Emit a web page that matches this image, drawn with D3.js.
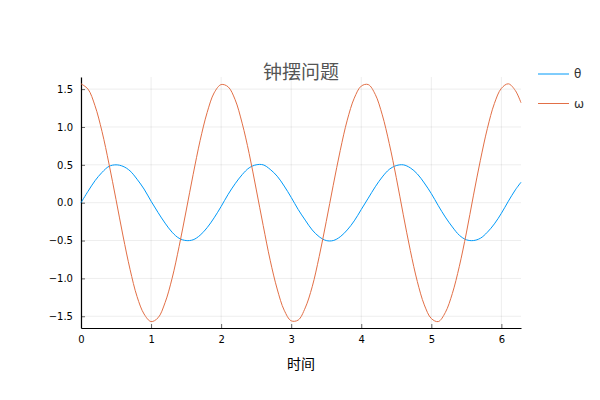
<!DOCTYPE html>
<html>
<head>
<meta charset="utf-8">
<script src="https://cdn.jsdelivr.net/npm/d3@7.9.0/dist/d3.min.js"></script>
<style>
  body { margin: 0; background: #fff; }
  svg { display: block; }
  .tick text { font-family: "DejaVu Sans", sans-serif; font-size: 10px; fill: #000; }
</style>
</head>
<body>
<svg width="600" height="400"></svg>
<script>
// 时间 (0.1 步长, 末点 2π)
const time = [0.0, 0.1, 0.2, 0.3, 0.4, 0.5, 0.6, 0.7, 0.8, 0.9,
  1.0, 1.1, 1.2, 1.3, 1.4, 1.5, 1.6, 1.7, 1.8, 1.9,
  2.0, 2.1, 2.2, 2.3, 2.4, 2.5, 2.6, 2.7, 2.8, 2.9,
  3.0, 3.1, 3.2, 3.3, 3.4, 3.5, 3.6, 3.7, 3.8, 3.9,
  4.0, 4.1, 4.2, 4.3, 4.4, 4.5, 4.6, 4.7, 4.8, 4.9,
  5.0, 5.1, 5.2, 5.3, 5.4, 5.5, 5.6, 5.7, 5.8, 5.9,
  6.0, 6.1, 6.2, 6.28];

const theta = [0.00, 0.15, 0.29, 0.40, 0.48, 0.50, 0.48, 0.42, 0.31, 0.18,
  0.02, -0.13, -0.27, -0.39, -0.47, -0.50, -0.49, -0.43, -0.33, -0.20,
  -0.05, 0.11, 0.25, 0.37, 0.46, 0.50, 0.50, 0.44, 0.35, 0.22,
  0.07, -0.09, -0.23, -0.36, -0.45, -0.50, -0.50, -0.45, -0.36, -0.24,
  -0.09, 0.06, 0.21, 0.34, 0.44, 0.49, 0.50, 0.46, 0.38, 0.26,
  0.12, -0.04, -0.19, -0.32, -0.43, -0.49, -0.50, -0.47, -0.39, -0.28,
  -0.14, 0.02, 0.17, 0.27];

const omega = [1.57, 1.50, 1.28, 0.94, 0.51, 0.04, -0.44, -0.88, -1.24, -1.47,
  -1.57, -1.52, -1.32, -1.00, -0.58, -0.11, 0.37, 0.82, 1.19, 1.45,
  1.56, 1.53, 1.36, 1.05, 0.65, 0.18, -0.30, -0.76, -1.14, -1.42,
  -1.56, -1.55, -1.39, -1.11, -0.71, -0.25, 0.23, 0.69, 1.09, 1.38,
  1.54, 1.56, 1.43, 1.16, 0.78, 0.33, -0.16, -0.63, -1.04, -1.35,
  -1.53, -1.57, -1.45, -1.20, -0.84, -0.40, 0.09, 0.56, 0.98, 1.31,
  1.51, 1.57, 1.48, 1.32];

const seriesNames = ["θ", "ω"];
const seriesColors = ["#009af9", "#e26f46"];
const xTicks = [0, 1, 2, 3, 4, 5, 6];
const yTicks = [-1.5, -1.0, -0.5, 0.0, 0.5, 1.0, 1.5];

const svg = d3.select("svg");
const plotL = 81, plotR = 521, plotT = 77, plotB = 328;

const x = d3.scaleLinear().domain([0, 6.28]).range([plotL, plotR]);
const y = d3.scaleLinear().domain([-1.655, 1.66]).range([plotB, plotT]);

// grid
svg.append("g").selectAll("line").data(xTicks).join("line")
  .attr("x1", d => x(d)).attr("x2", d => x(d))
  .attr("y1", plotT).attr("y2", plotB)
  .attr("stroke", "#000").attr("stroke-opacity", 0.07).attr("stroke-width", 1);
svg.append("g").selectAll("line").data(yTicks).join("line")
  .attr("x1", plotL).attr("x2", plotR)
  .attr("y1", d => y(d)).attr("y2", d => y(d))
  .attr("stroke", "#000").attr("stroke-opacity", 0.07).attr("stroke-width", 1);

// axes
const xAxis = d3.axisBottom(x).tickValues(xTicks).tickFormat(d3.format("d"))
  .tickSizeInner(-4).tickSizeOuter(0).tickPadding(8);
svg.append("g").attr("transform", `translate(0,${plotB})`).call(xAxis)
  .call(g => g.select(".domain").attr("stroke", "#000").attr("stroke-width", 1.2));

const yAxis = d3.axisLeft(y).tickValues(yTicks).tickFormat(d3.format(".1f"))
  .tickSizeInner(-4).tickSizeOuter(0).tickPadding(8);
svg.append("g").attr("transform", `translate(${plotL},0)`).call(yAxis)
  .call(g => g.select(".domain").attr("stroke", "#000").attr("stroke-width", 1.2));

svg.selectAll(".tick line").attr("stroke", "#000").attr("stroke-opacity", 0.6);
svg.selectAll(".tick text").attr("font-family", null).attr("font-size", null);

// lines
const series = [theta, omega];
const line = d3.line()
  .x((d, i) => x(time[i]))
  .y(d => y(d))
  .curve(d3.curveCatmullRom);
svg.append("g").selectAll("path").data(series).join("path")
  .attr("d", line)
  .attr("fill", "none")
  .attr("stroke", (d, i) => seriesColors[i])
  .attr("stroke-width", 1);

// title
svg.append("text")
  .attr("x", 301).attr("y", 79)
  .attr("text-anchor", "middle")
  .attr("font-family", "'Noto Sans CJK SC', sans-serif")
  .attr("font-size", 19)
  .attr("fill", "#555")
  .text("钟摆问题");

// x label
svg.append("text")
  .attr("x", 301).attr("y", 369)
  .attr("text-anchor", "middle")
  .attr("font-family", "'Noto Sans CJK SC', sans-serif")
  .attr("font-size", 14)
  .attr("fill", "#000")
  .text("时间");

// legend
const legend = svg.append("g").selectAll("g").data(seriesNames).join("g")
  .attr("transform", (d, i) => `translate(538,${74 + i * 29.5})`);
legend.append("line")
  .attr("x1", 0).attr("x2", 31).attr("y1", 0).attr("y2", 0)
  .attr("stroke", (d, i) => seriesColors[i]).attr("stroke-width", 1);
legend.append("text")
  .attr("x", 36).attr("y", 4)
  .attr("font-family", "'DejaVu Sans', sans-serif")
  .attr("font-size", 12)
  .attr("fill", "#333")
  .text(d => d);
</script>
</body>
</html>
